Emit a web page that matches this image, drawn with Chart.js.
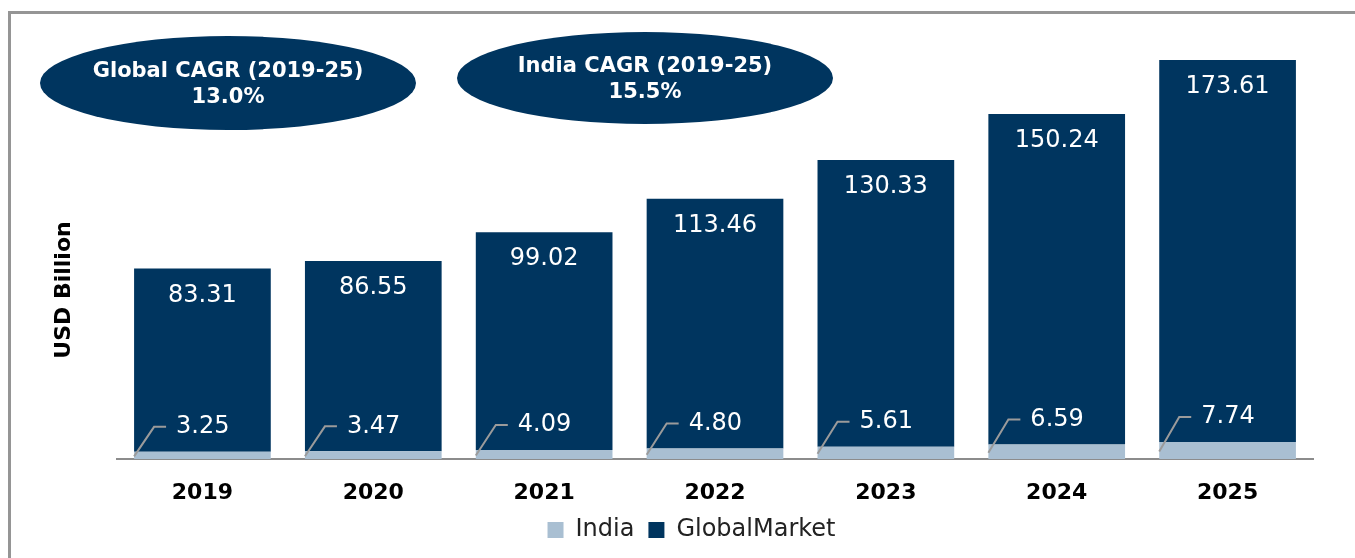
<!DOCTYPE html>
<html>
<head>
<meta charset="utf-8">
<title>USD Billion - India vs Global Market</title>
<script src="https://cdn.jsdelivr.net/npm/chart.js@4.4.0/dist/chart.umd.min.js"></script>
<style>
    html, body { margin: 0; padding: 0; background: #fff; }
    #wrap { position: relative; width: 1355px; height: 558px; overflow: hidden; }
    #frame {
        position: absolute; left: 8px; top: 11px; width: 2000px; height: 1000px;
        border-left: 3px solid #959595; border-top: 3px solid #959595;
        pointer-events: none;
    }
    .cagr {
        position: absolute; background: #00355f; color: #fff; border-radius: 50%;
        display: flex; flex-direction: column; align-items: center; justify-content: center;
        font: bold 21px "DejaVu Sans", sans-serif; line-height: 26px; text-align: center;
    }
    #ytitle {
        position: absolute; left: 62px; top: 290px; white-space: nowrap;
        transform: translate(-50%, -50%) rotate(-90deg);
        font: bold 22px "DejaVu Sans", sans-serif; color: #000;
    }
</style>
</head>
<body>
<div id="wrap">
    <canvas id="grafico"></canvas>
    <div id="frame"></div>
    <div class="cagr" style="left:40px; top:36px; width:376px; height:94px;">
        <span>Global CAGR (2019-25)</span><span>13.0%</span>
    </div>
    <div class="cagr" style="left:457px; top:32px; width:376px; height:92px;">
        <span>India CAGR (2019-25)</span><span>15.5%</span>
    </div>
    <div id="ytitle">USD Billion</div>
</div>
<script>
// Datos del gráfico
const anios = ['2019', '2020', '2021', '2022', '2023', '2024', '2025'];
const valoresIndia = [3.25, 3.47, 4.09, 4.80, 5.61, 6.59, 7.74];
const valoresGlobal = [83.31, 86.55, 99.02, 113.46, 130.33, 150.24, 173.61];

const colorIndia = '#a9bfd2';
const colorGlobal = '#00355f';

// Etiquetas de valores sobre las barras
const etiquetasBarras = {
    id: 'etiquetasBarras',
    afterDatasetsDraw(chart) {
        const ctx = chart.ctx;
        const barrasIndia = chart.getDatasetMeta(0).data;
        const barrasGlobal = chart.getDatasetMeta(1).data;
        ctx.save();
        ctx.font = '24px "DejaVu Sans"';
        ctx.fillStyle = '#ffffff';
        ctx.textBaseline = 'middle';

        // Global: dentro de la barra, cerca del borde superior
        ctx.textAlign = 'center';
        barrasGlobal.forEach((barra, i) => {
            ctx.fillText(valoresGlobal[i].toFixed(2), barra.x, barra.y + 27);
        });

        // India: con línea guía desde el segmento inferior
        ctx.textAlign = 'left';
        ctx.strokeStyle = '#9b9b9b';
        ctx.lineWidth = 2;
        barrasIndia.forEach((barra, i) => {
            const izq = barra.x - barra.width / 2;
            const yBase = (barra.y + barra.base) / 2 + 1;
            const yTexto = barra.y - 25;
            ctx.beginPath();
            ctx.moveTo(izq, yBase);
            ctx.lineTo(izq + 20, yTexto);
            ctx.lineTo(izq + 32, yTexto);
            ctx.stroke();
            ctx.fillText(valoresIndia[i].toFixed(2), izq + 42, yTexto);
        });
        ctx.restore();
    }
};

const ctx = document.getElementById('grafico').getContext('2d');
new Chart(ctx, {
    type: 'bar',
    data: {
        labels: anios,
        datasets: [
            {
                label: 'India',
                data: valoresIndia,
                backgroundColor: colorIndia,
                borderWidth: 0,
                barPercentage: 0.8,
                categoryPercentage: 1
            },
            {
                label: 'GlobalMarket',
                data: valoresGlobal,
                backgroundColor: colorGlobal,
                borderWidth: 0,
                barPercentage: 0.8,
                categoryPercentage: 1
            }
        ]
    },
    options: {
        responsive: true,
        maintainAspectRatio: false,
        animation: false,
        layout: {
            padding: { left: 70, right: 42, top: 19, bottom: 6 }
        },
        plugins: {
            tooltip: { enabled: false },
            legend: {
                position: 'bottom',
                labels: {
                    boxWidth: 16,
                    boxHeight: 16,
                    padding: 14,
                    color: '#222',
                    font: { family: 'DejaVu Sans', size: 24 }
                }
            }
        },
        scales: {
            x: {
                stacked: true,
                grid: { display: false, drawTicks: true, tickLength: 23 },
                border: { display: true, color: '#8c8c8c', width: 2 },
                ticks: {
                    padding: 0,
                    color: '#000',
                    font: { family: 'DejaVu Sans', size: 22, weight: 'bold', lineHeight: 1.0 }
                }
            },
            y: {
                stacked: true,
                min: 0,
                max: 200,
                grid: { display: false, drawTicks: false },
                border: { display: false },
                ticks: { display: false },
                afterFit: escala => { escala.width = 47; }
            }
        }
    },
    plugins: [etiquetasBarras]
});
</script>
</body>
</html>
